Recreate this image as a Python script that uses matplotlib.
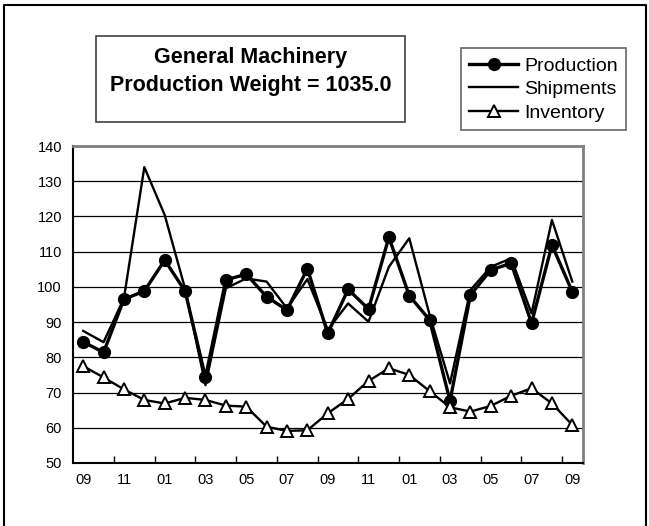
import numpy as np
import matplotlib
matplotlib.use('Agg')
from matplotlib import pyplot as plt
from matplotlib.patches import Rectangle
from matplotlib.lines import Line2D

plt.rcParams['font.family'] = ['Liberation Sans', 'DejaVu Sans']

# months from 09 to 09 two years later (25 monthly points)
months = ['09', '10', '11', '12', '01', '02', '03', '04', '05', '06', '07', '08',
          '09', '10', '11', '12', '01', '02', '03', '04', '05', '06', '07', '08', '09']
production = [84.4, 81.4, 96.5, 98.8, 107.6, 98.8, 74.3, 102.0, 103.6, 97.2, 93.4, 105.2,
              86.8, 99.3, 93.7, 114.1, 97.5, 90.6, 67.6, 97.7, 104.8, 106.7, 89.7, 111.9, 98.6]
shipments = [87.5, 84.3, 96.8, 134.0, 120.4, 99.5, 72.1, 99.6, 102.4, 101.5, 93.9, 102.2,
             87.8, 95.3, 90.1, 105.7, 113.8, 92.0, 72.6, 99.1, 105.7, 108.1, 92.5, 119.0, 101.5]
inventory = [77.5, 74.3, 70.9, 67.9, 66.9, 68.5, 67.9, 66.3, 66.0, 60.3, 59.1, 59.3,
             64.1, 68.2, 73.3, 76.9, 75.0, 70.4, 65.8, 64.6, 66.2, 69.1, 71.2, 66.9, 60.8]
title_lines = ['General Machinery', 'Production Weight = 1035.0']

W, H = 649, 526
fig = plt.figure(figsize=(W / 100, H / 100), dpi=100)
ax = fig.add_axes([73 / W, 1 - 463 / H, 509.5 / W, 317 / H])

x = np.arange(len(months))
ax.plot(x, shipments, color='black', lw=1.7, zorder=3)
ax.plot(x, production, color='black', lw=2.4, marker='o', ms=8.5, zorder=4)
ax.plot(x, inventory, color='black', lw=1.7, marker='^', ms=8.5, mfc='white',
        mec='black', mew=1.4, zorder=5)

ax.set_xlim(-0.5, len(months) - 0.5)
ax.set_ylim(50, 140)
ax.set_yticks(range(50, 141, 10))
ax.set_xticks(x[::2])
ax.set_xticklabels(months[::2])
ax.set_xticks(np.arange(1.5, len(months) - 1, 2), minor=True)
ax.tick_params(axis='x', which='major', length=0, pad=7, labelsize=10.5)
ax.tick_params(axis='x', which='minor', direction='in', length=5, width=1)
ax.tick_params(axis='y', length=0, pad=8, labelsize=10.5)
ax.grid(axis='y', color='black', lw=0.9)
ax.set_axisbelow(True)
for s in ['left', 'bottom']:
    ax.spines[s].set_linewidth(1.5)
for s in ['top', 'right']:
    ax.spines[s].set_color('#808080')
    ax.spines[s].set_linewidth(2)

# outer frame
fig.add_artist(Line2D([3.5 / W, 3.5 / W, 645.5 / W, 645.5 / W],
                      [0, 1 - 5 / H, 1 - 5 / H, 0], color='black', lw=1.5,
                      transform=fig.transFigure))

# title box
fig.add_artist(Rectangle((96 / W, 1 - 122 / H), 309 / W, 86 / H, fill=False,
                         ec='#404040', lw=1.2, transform=fig.transFigure))
fig.text(250.5 / W, 1 - 57 / H, title_lines[0], ha='center', va='center',
         fontsize=15.5, fontweight='bold')
fig.text(250.5 / W, 1 - 86 / H, title_lines[1], ha='center', va='center',
         fontsize=15.5, fontweight='bold')

handles = [Line2D([], [], color='black', lw=2.4, marker='o', ms=8.5),
           Line2D([], [], color='black', lw=1.7),
           Line2D([], [], color='black', lw=1.7, marker='^', ms=8.5, mfc='white', mew=1.4)]
leg = fig.legend(handles, ['Production', 'Shipments', 'Inventory'],
                 loc='upper left', bbox_to_anchor=(460.7 / W, 1 - 48.3 / H),
                 fontsize=14, frameon=True, fancybox=False, handlelength=2.5,
                 handletextpad=0.3, labelspacing=0.3, borderpad=0.45,
                 borderaxespad=0)
leg.get_frame().set_edgecolor('#404040')
leg.get_frame().set_linewidth(1.2)

fig.savefig('out.png', dpi=100)
